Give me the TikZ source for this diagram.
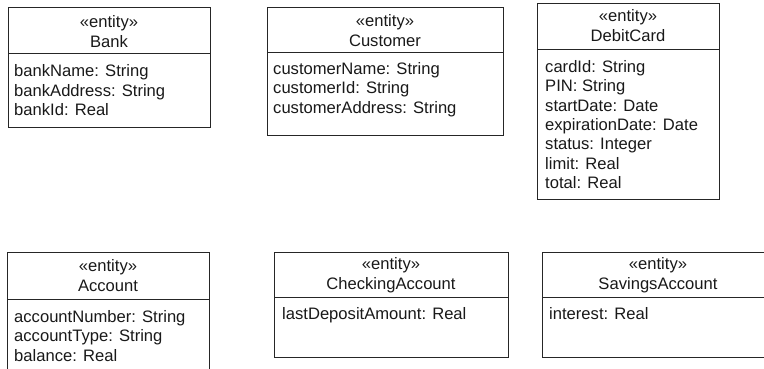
\documentclass[tikz,border=0pt]{standalone}
\usepackage{fontspec}
\setmainfont{Liberation Sans}
\begin{document}
\begin{tikzpicture}[x=1pt,y=-1pt,
  umlbox/.style={draw=black!85, line width=0.9pt, inner sep=0pt, anchor=north west},
  sepline/.style={draw=black!85, line width=0.9pt},
  hdr/.style={inner sep=0pt, anchor=north, align=center, font=\fontsize{16.6}{19.8}\selectfont, text=black!90},
  attrs/.style={inner sep=0pt, anchor=north west, align=left, font=\fontsize{16.6}{19.4}\selectfont, text=black!90}]
\clip (0,0) rectangle (764,369);
\useasboundingbox (0,0) rectangle (764,369);
% Bank
\node[umlbox, minimum width=202pt, minimum height=120pt] (bank) at (8,7) {};
\draw[sepline] (bank.west |- 0,53) -- (bank.east |- 0,53);
\node[hdr] (bankh) at (109,15) {«entity»\\Bank};
\node[attrs] (banka) at (14,64.5) {bankName: String\\bankAddress: String\\bankId: Real};
% Customer
\node[umlbox, minimum width=236pt, minimum height=128pt] (cust) at (267,7) {};
\draw[sepline] (cust.west |- 0,52) -- (cust.east |- 0,52);
\node[hdr] (custh) at (385,14.5) {«entity»\\Customer};
\node[attrs] (custa) at (273,62) {customerName: String\\customerId: String\\customerAddress: String};
% DebitCard
\node[umlbox, minimum width=182pt, minimum height=196pt] (debit) at (537,3) {};
\draw[sepline] (debit.west |- 0,49) -- (debit.east |- 0,49);
\node[hdr] (debith) at (628,9.5) {«entity»\\DebitCard};
\node[attrs] (debita) at (545,60) {cardId: String\\PIN: String\\startDate: Date\\expirationDate: Date\\status: Integer\\limit: Real\\total: Real};
% Account
\node[umlbox, minimum width=202pt, minimum height=130pt] (acct) at (7,252) {};
\draw[sepline] (acct.west |- 0,299) -- (acct.east |- 0,299);
\node[hdr] (accth) at (108,259) {«entity»\\Account};
\node[attrs] (accta) at (14,310) {accountNumber: String\\accountType: String\\balance: Real};
% CheckingAccount
\node[umlbox, minimum width=234pt, minimum height=105pt] (check) at (274,252) {};
\draw[sepline] (check.west |- 0,297) -- (check.east |- 0,297);
\node[hdr] (checkh) at (391,257.5) {«entity»\\CheckingAccount};
\node[attrs] (checka) at (282,307) {lastDepositAmount: Real};
% SavingsAccount
\node[umlbox, minimum width=232pt, minimum height=105pt] (sav) at (542,252) {};
\draw[sepline] (sav.west |- 0,297) -- (sav.east |- 0,297);
\node[hdr] (savh) at (658,257.5) {«entity»\\SavingsAccount};
\node[attrs] (sava) at (549,307) {interest: Real};
\end{tikzpicture}
\end{document}
